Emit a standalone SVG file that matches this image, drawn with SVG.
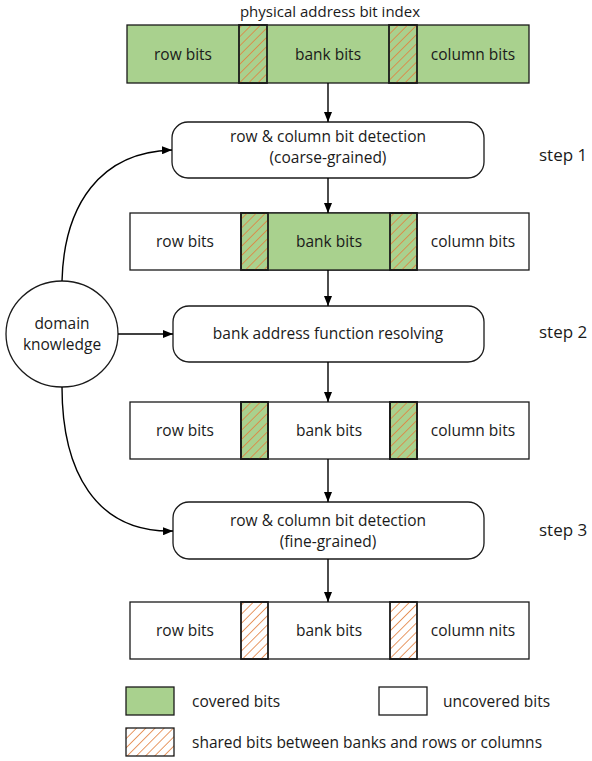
<svg xmlns="http://www.w3.org/2000/svg" width="592" height="761" viewBox="0 0 592 761">
<defs>
<pattern id="hatch" patternUnits="userSpaceOnUse" width="6.5" height="6.5" patternTransform="rotate(45)">
<line x1="0" y1="0" x2="0" y2="6.5" stroke="#E2803F" stroke-width="1.6"/>
</pattern>
<marker id="arr" markerWidth="10" markerHeight="8" refX="10" refY="4" orient="auto" markerUnits="userSpaceOnUse">
<path d="M0,0 L10,4 L0,8 Z" fill="#000"/>
</marker>
</defs>
<style>
text{font-family:"Open Sans","Liberation Sans",sans-serif;font-size:15.5px;fill:#1a1a1a;text-anchor:middle}
.cell{stroke:#1a1a1a;stroke-width:1.3}
.g{fill:#A9D18E}
.w{fill:#fff}
.h{fill:url(#hatch)}
.box{fill:#fff;stroke:#1a1a1a;stroke-width:1.3}
.con{fill:none;stroke:#000;stroke-width:1.4;marker-end:url(#arr)}
.step{font-size:17px;text-anchor:start}
.leg{text-anchor:start}
.title{font-size:15px}
</style>
<rect width="592" height="761" fill="#fff"/>
<text class="title" x="330" y="17">physical address bit index</text>

<g id="bar1">
<rect class="cell g" x="127" y="25" width="402" height="58"/>
<rect class="cell h" x="239" y="25" width="28" height="58" style="stroke-width:1.8"/>
<rect class="cell h" x="389" y="25" width="28" height="58" style="stroke-width:1.8"/>
<text x="183" y="59.5">row bits</text>
<text x="328" y="59.5">bank bits</text>
<text x="473" y="59.5">column bits</text>
</g>

<g id="step1">
<rect class="box" x="172" y="122" width="312" height="56" rx="16"/>
<text x="328" y="142">row &amp; column bit detection</text>
<text x="328" y="163">(coarse-grained)</text>
</g>
<text class="step" x="539" y="161">step 1</text>

<g id="bar2">
<rect class="cell w" x="130" y="213" width="399" height="57"/>
<rect class="cell g" x="241" y="213" width="176" height="57"/>
<rect class="cell h" x="241" y="213" width="27" height="57" style="stroke-width:1.8"/>
<rect class="cell h" x="390" y="213" width="27" height="57" style="stroke-width:1.8"/>
<text x="185" y="247">row bits</text>
<text x="329" y="247">bank bits</text>
<text x="473" y="247">column bits</text>
</g>

<g id="domain">
<ellipse cx="62" cy="334" rx="56" ry="53" fill="#fff" stroke="#1a1a1a" stroke-width="1.3"/>
<text x="62" y="329">domain</text>
<text x="62" y="350">knowledge</text>
</g>

<g id="step2">
<rect class="box" x="173" y="306" width="311" height="56" rx="16"/>
<text x="328" y="339">bank address function resolving</text>
</g>
<text class="step" x="539" y="338">step 2</text>

<g id="bar3">
<rect class="cell w" x="130" y="402" width="399" height="57"/>
<rect class="cell g" x="241" y="402" width="27" height="57" style="stroke-width:1.8"/>
<rect class="cell h" x="241" y="402" width="27" height="57" style="stroke-width:1.8"/>
<rect class="cell g" x="390" y="402" width="27" height="57" style="stroke-width:1.8"/>
<rect class="cell h" x="390" y="402" width="27" height="57" style="stroke-width:1.8"/>
<text x="185" y="436">row bits</text>
<text x="329" y="436">bank bits</text>
<text x="473" y="436">column bits</text>
</g>

<g id="step3">
<rect class="box" x="173" y="502" width="311" height="57" rx="16"/>
<text x="328" y="526">row &amp; column bit detection</text>
<text x="328" y="547">(fine-grained)</text>
</g>
<text class="step" x="539" y="536">step 3</text>

<g id="bar4">
<rect class="cell w" x="130" y="602" width="399" height="57"/>
<rect class="cell h" x="241" y="602" width="27" height="57" style="stroke-width:1.8"/>
<rect class="cell h" x="390" y="602" width="27" height="57" style="stroke-width:1.8"/>
<text x="185" y="636">row bits</text>
<text x="329" y="636">bank bits</text>
<text x="473" y="636">column nits</text>
</g>

<g id="connectors">
<line class="con" x1="328" y1="83" x2="328" y2="122"/>
<line class="con" x1="328" y1="178" x2="328" y2="213"/>
<line class="con" x1="328" y1="270" x2="328" y2="306"/>
<line class="con" x1="328" y1="362" x2="328" y2="402"/>
<line class="con" x1="328" y1="459" x2="328" y2="502"/>
<line class="con" x1="328" y1="559" x2="328" y2="602"/>
<line class="con" x1="118" y1="334" x2="173" y2="334"/>
<path class="con" d="M62,281 C64,205 100,152 172,150"/>
<path class="con" d="M62,387 C62,470 95,533 173,531"/>
</g>

<g id="legend">
<rect class="cell g" x="126" y="687" width="48" height="28"/>
<text class="leg" x="192" y="707">covered bits</text>
<rect class="cell w" x="379" y="687" width="48" height="28"/>
<text class="leg" x="443" y="707">uncovered bits</text>
<rect class="cell h" x="126" y="728" width="48" height="28"/>
<text class="leg" x="192" y="748">shared bits between banks and rows or columns</text>
</g>
</svg>
